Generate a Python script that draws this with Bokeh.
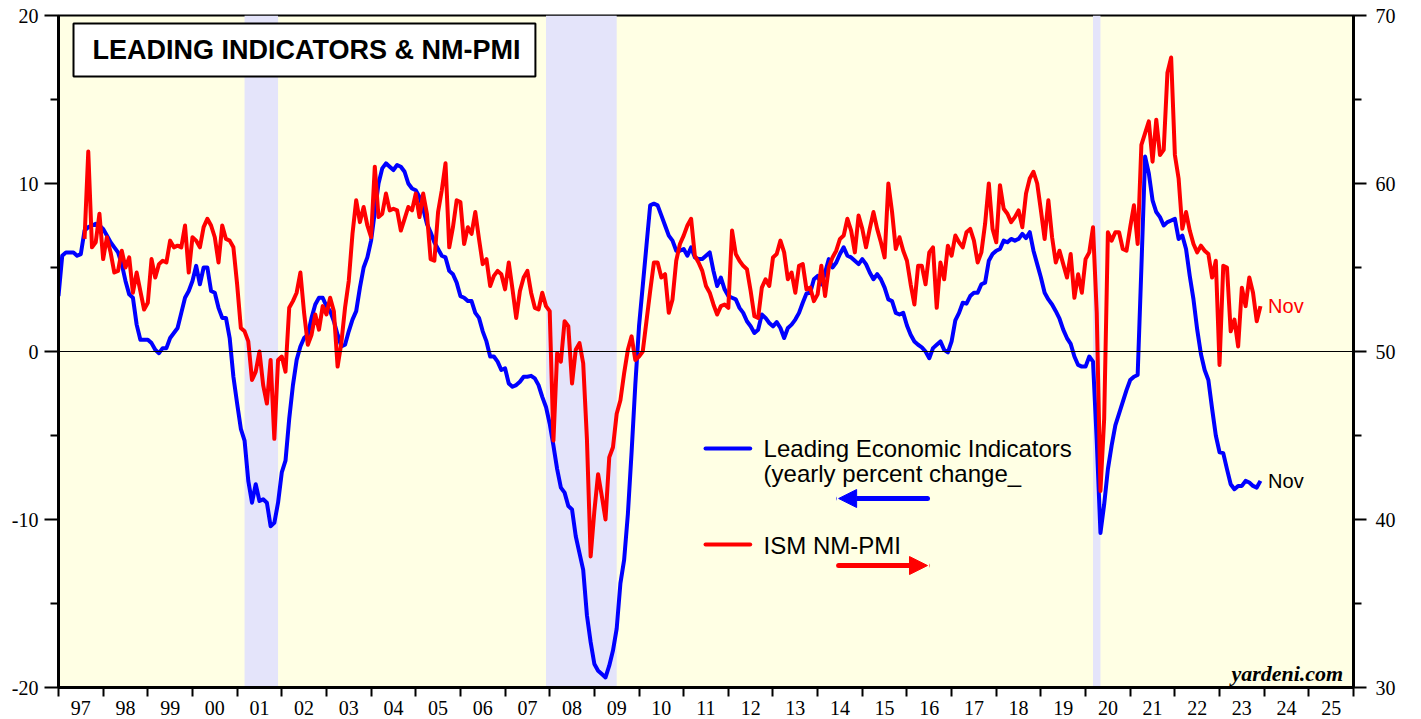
import pandas as pd
from bokeh.plotting import figure
from bokeh.models import (Range1d, LinearAxis, FixedTicker, BoxAnnotation, Span,
                          Label, Arrow, NormalHead)
from bokeh.embed import file_html
from bokeh.resources import INLINE

# ---------------- data ----------------
lei_start = "1996-12"          # monthly, month-end
lei_yoy = [
    3.3, 5.7, 5.9, 5.9, 5.9, 5.7, 5.8, 7.2, 7.4, 7.5, 7.6, 7.5,
    7.3, 6.9, 6.5, 6.2, 5.9, 5.2, 4.2, 3.4, 3.2, 1.6, 0.7, 0.7,
    0.7, 0.5, 0.1, -0.1, 0.2, 0.2, 0.8, 1.1, 1.4, 2.3, 3.2, 3.6,
    4.2, 5.1, 4.0, 5.0, 5.0, 3.6, 3.5, 2.6, 2.0, 2.0, 0.8, -1.5,
    -3.1, -4.6, -5.3, -7.7, -9.0, -7.9, -8.9, -8.8, -9.0, -10.4, -10.2, -9.0,
    -7.2, -6.5, -4.0, -2.0, -0.5, 0.3, 0.8, 1.0, 2.0, 2.8, 3.2, 3.2,
    2.7, 2.4, 1.8, 1.0, 0.3, 0.4, 1.2, 1.9, 2.4, 3.8, 5.0, 5.6,
    6.6, 8.3, 10.0, 10.9, 11.2, 11.0, 10.8, 11.1, 11.0, 10.7, 10.0, 9.7,
    9.6, 9.2, 8.5, 7.6, 7.1, 6.5, 6.1, 5.7, 5.6, 4.8, 4.6, 4.1,
    3.3, 3.2, 3.0, 3.0, 2.3, 2.0, 1.2, 0.6, -0.3, -0.3, -0.6, -1.1,
    -1.0, -1.9, -2.1, -2.0, -1.8, -1.5, -1.5, -1.45, -1.6, -2.0, -2.7, -3.3,
    -4.3, -5.6, -7.0, -8.1, -8.4, -9.2, -9.4, -11.0, -12.0, -13.0, -15.7, -17.3,
    -18.6, -19.0, -19.2, -19.4, -18.7, -17.8, -16.5, -13.8, -12.4, -9.7, -6.0, -2.0,
    1.5, 3.9, 6.3, 8.7, 8.8, 8.7, 8.1, 7.5, 6.9, 6.6, 6.0, 6.0,
    6.1, 5.7, 6.2, 5.6, 5.5, 5.5, 5.7, 5.9, 4.8, 3.9, 4.4, 3.7,
    3.3, 3.2, 3.1, 2.6, 2.3, 1.8, 1.5, 1.1, 1.3, 2.2, 2.0, 1.7,
    1.5, 1.75, 1.4, 0.8, 1.4, 1.6, 1.9, 2.3, 2.9, 3.45, 3.5, 4.3,
    4.5, 4.0, 4.7, 5.5, 5.0, 5.3, 5.8, 6.2, 5.7, 5.6, 5.4, 5.2,
    5.5, 5.2, 4.7, 4.3, 4.6, 4.3, 3.8, 3.1, 3.0, 2.3, 2.2, 2.3,
    1.55, 1.0, 0.6, 0.4, 0.25, 0.0, -0.4, 0.2, 0.4, 0.6, 0.1, -0.05,
    0.6, 1.85, 2.3, 2.9, 2.85, 3.3, 3.5, 3.5, 4.0, 4.1, 5.4, 5.8,
    6.0, 6.1, 6.6, 6.5, 6.7, 6.6, 6.7, 7.0, 6.75, 7.1, 6.0, 5.2,
    4.4, 3.5, 3.1, 2.8, 2.4, 1.95, 1.3, 0.8, 0.45, -0.3, -0.8, -0.9,
    -0.9, -0.3, -0.6, -5.3, -10.8, -9.1, -7.0, -5.6, -4.4, -3.7, -3.0, -2.3,
    -1.7, -1.5, -1.4, 5.0, 11.6, 10.6, 9.0, 8.3, 8.0, 7.5, 7.7, 7.8,
    7.9, 6.7, 6.9, 6.1, 4.5, 3.1, 1.3, -0.15, -1.1, -1.7, -3.4, -5.0,
    -6.0, -6.05, -7.0, -7.9, -8.2, -8.0, -8.0, -7.7, -7.8, -8.0, -8.1, -7.7,
]

pmi_start = "1997-07"          # monthly, month-end
nm_pmi = [
    56.7, 61.9, 56.2, 56.5, 58.2,
    55.5, 56.8, 55.9, 54.7, 54.8, 56.0, 55.0, 55.6, 53.5, 54.7, 53.6, 52.5,
    52.9, 55.5, 54.4, 55.2, 55.4, 55.3, 56.6, 56.2, 56.3, 56.2, 57.5, 54.7,
    56.8, 56.6, 56.2, 57.4, 57.9, 57.5, 56.8, 55.3, 57.5, 56.7, 56.6, 56.2,
    54.0, 51.4, 51.2, 50.6, 48.3, 48.8, 50.0, 48.0, 46.9, 49.5, 44.8, 49.5,
    49.7, 48.8, 52.6, 53.0, 53.5, 54.7, 52.3, 50.4, 51.0, 52.2, 51.3, 52.7,
    52.2, 53.2, 52.4, 49.1, 50.5, 52.6, 54.2, 57.0, 59.0, 57.7, 58.6, 57.5,
    56.8, 61.0, 58.0, 58.2, 59.4, 58.4, 58.5, 58.4, 57.2, 57.9, 58.6, 58.4,
    59.4, 58.0, 59.4, 58.2, 55.5, 55.4, 58.3, 59.6, 61.2, 56.2, 57.4, 59.0,
    58.9, 56.4, 57.4, 57.0, 58.3, 56.7, 55.2, 55.5, 53.9, 54.5, 54.8, 54.6,
    53.7, 55.3, 53.7, 52.0, 53.6, 54.4, 54.8, 53.5, 52.6, 52.5, 53.5, 52.7,
    52.4, 44.7, 49.9, 49.4, 51.8, 51.5, 48.1, 50.1, 50.5, 49.3, 44.8, 37.8,
    40.5, 42.7, 41.4, 40.0, 43.7, 44.3, 46.3, 47.1, 48.7, 50.1, 50.9, 49.5,
    49.7, 50.0, 51.8, 53.6, 55.3, 55.3, 54.4, 54.6, 52.3, 53.1, 55.4, 56.4,
    56.9, 57.5, 57.9, 55.7, 55.3, 54.8, 53.9, 53.5, 52.8, 52.2, 52.7, 52.8,
    52.6, 57.2, 55.8, 55.4, 55.1, 54.9, 53.6, 52.1, 52.0, 53.8, 54.3, 53.9,
    55.6, 55.8, 56.6, 55.9, 54.3, 54.7, 53.5, 55.1, 55.2, 53.7, 53.8, 53.0,
    53.4, 55.1, 53.3, 55.0, 55.6, 56.0, 56.7, 56.9, 57.9, 57.2, 55.9, 58.1,
    57.3, 56.2, 57.3, 58.3, 57.3, 56.5, 55.6, 60.0, 58.3, 56.1, 56.8, 56.0,
    55.4, 54.0, 52.8, 55.1, 55.1, 54.0, 55.9, 56.2, 52.6, 55.3, 54.3, 56.3,
    55.7, 56.9, 56.5, 56.2, 57.1, 57.3, 56.6, 55.3, 55.9, 57.6, 60.0, 57.3,
    56.5, 59.9, 58.5, 58.2, 57.7, 58.0, 58.4, 57.4, 59.4, 60.3, 60.7, 60.0,
    58.4, 56.7, 59.0, 56.8, 55.3, 56.0, 55.2, 54.4, 55.8, 53.2, 54.6, 53.5,
    55.5, 55.9, 57.4, 52.3, 41.7, 46.0, 57.1, 56.6, 57.1, 57.1, 56.1, 56.0,
    57.4, 58.7, 56.4, 62.3, 63.0, 63.7, 61.3, 63.8, 61.7, 62.0, 66.6, 67.5,
    61.7, 60.3, 57.3, 58.3, 57.2, 56.4, 55.9, 56.3, 56.0, 55.8, 54.4, 55.4,
    49.2, 55.1, 55.0, 51.2, 51.9, 50.3, 53.8, 52.7, 54.4, 53.5, 51.8, 52.7,
]

year_labels = ["97", "98", "99", "00", "01", "02", "03", "04", "05", "06",
               "07", "08", "09", "10", "11", "12", "13", "14", "15", "16",
               "17", "18", "19", "20", "21", "22", "23", "24", "25"]
first_year = 1997

recession_start = ["2001-03", "2007-12", "2020-03"]
recession_end = ["2001-11", "2009-06", "2020-04"]

left_ticks = [-20, -10, 0, 10, 20]
left_tick_labels = ["-20", "-10", "0", "10", "20"]
left_minor = [-15, -5, 5, 15]
right_ticks = [30, 40, 50, 60, 70]
right_tick_labels = ["30", "40", "50", "60", "70"]
right_minor = [35, 45, 55, 65]


def month_end_positions(start, n):
    per = pd.period_range(start, periods=n, freq="M")
    return [p.year + p.month / 12 for p in per]


def month_start(s):
    p = pd.Period(s, freq="M")
    return p.year + (p.month - 1) / 12


def month_end(s):
    p = pd.Period(s, freq="M")
    return p.year + p.month / 12


x_lei = month_end_positions(lei_start, len(lei_yoy))
x_pmi = month_end_positions(pmi_start, len(nm_pmi))

BLUE = "#0000FF"
RED = "#FF0000"
SERIF = "Liberation Serif"
SANS = "Liberation Sans"

n_years = len(year_labels)
p = figure(width=1416, height=719,
           x_range=Range1d(first_year, first_year + n_years),
           y_range=Range1d(left_ticks[0], left_ticks[-1]),
           output_backend="svg", toolbar_location=None,
           min_border_left=58, min_border_right=63,
           min_border_top=15, min_border_bottom=32)
p.extra_y_ranges = {"pmi": Range1d(right_ticks[0], right_ticks[-1])}
p.background_fill_color = "#FFFFE4"
p.border_fill_color = "white"
p.grid.visible = False
p.outline_line_color = "black"
p.outline_line_width = 2
p.outline_line_alpha = 1.0

# recessions
for s, e in zip(recession_start, recession_end):
    p.add_layout(BoxAnnotation(left=month_start(s), right=month_end(e),
                               fill_color="#E4E4FA", fill_alpha=1.0,
                               line_color=None, level="underlay"))

# x axis: labels centred in each year, ticks at year boundaries
mids = [first_year + i + 0.5 for i in range(n_years)]
bounds = [first_year + i for i in range(n_years + 1)]
xa = p.xaxis[0]
xa.ticker = FixedTicker(ticks=mids, minor_ticks=bounds)
xa.major_label_overrides = {m: lab for m, lab in zip(mids, year_labels)}
xa.major_tick_line_color = None
xa.major_tick_out = 9
xa.major_tick_in = 0
xa.minor_tick_out = 9
xa.minor_tick_in = 0
xa.minor_tick_line_color = "black"
xa.minor_tick_line_width = 2
xa.axis_line_width = 3
xa.axis_line_color = "black"
xa.major_label_standoff = 4
xa.major_label_text_font = SERIF
xa.major_label_text_font_size = "20px"
xa.major_label_text_color = "black"

# left axis
ya = p.yaxis[0]
ya.ticker = FixedTicker(ticks=left_ticks, minor_ticks=left_minor)
ya.major_label_overrides = {t: lab for t, lab in zip(left_ticks, left_tick_labels)}

# right axis
ra = LinearAxis(y_range_name="pmi",
                ticker=FixedTicker(ticks=right_ticks, minor_ticks=right_minor))
ra.major_label_overrides = {t: lab for t, lab in zip(right_ticks, right_tick_labels)}
p.add_layout(ra, "right")

for ax, out, stand in ((ya, 14, 6), (ra, 13, 9)):
    ax.major_tick_out = out
    ax.major_tick_in = 0
    ax.minor_tick_out = 8
    ax.minor_tick_in = 0
    ax.major_tick_line_width = 2
    ax.minor_tick_line_width = 2
    ax.major_tick_line_color = "black"
    ax.minor_tick_line_color = "black"
    ax.axis_line_width = 3
    ax.axis_line_color = "black"
    ax.major_label_standoff = stand
    ax.major_label_text_font = SERIF
    ax.major_label_text_font_size = "20px"
    ax.major_label_text_color = "black"

p.add_layout(Span(location=0, dimension="width", line_color="black", line_width=1))

# series
p.line(x_lei, lei_yoy, line_color=BLUE, line_width=4, line_join="round")
p.line(x_pmi, nm_pmi, line_color=RED, line_width=4, line_join="round",
       y_range_name="pmi")

# title box
p.add_layout(BoxAnnotation(left=1997.336, right=2007.68, bottom=16.37, top=19.52,
                           fill_color="white", fill_alpha=1.0,
                           line_color="black", line_alpha=1.0, line_width=2))
p.add_layout(Label(x=1997.76, y=17.95, text="LEADING INDICATORS & NM-PMI",
                   text_font=SANS, text_font_style="bold", text_font_size="27px",
                   text_color="black", text_baseline="middle"))

# legend
leg_x0, leg_x1, leg_tx = 2011.49, 2012.49, 2012.79
p.add_layout(Arrow(end=None, x_start=leg_x0, x_end=leg_x1, y_start=-5.77, y_end=-5.77,
                   line_color=BLUE, line_width=4, line_cap="round"))
p.add_layout(Label(x=leg_tx, y=-5.77, text="Leading Economic Indicators",
                   text_font=SANS, text_font_size="24px", text_color="black",
                   text_baseline="middle"))
p.add_layout(Label(x=leg_tx, y=-7.26, text="(yearly percent change_",
                   text_font=SANS, text_font_size="24px", text_color="black",
                   text_baseline="middle"))
p.add_layout(Arrow(end=NormalHead(size=18, fill_color=BLUE, line_color=BLUE),
                   x_start=2016.46, x_end=2014.47, y_start=-8.75, y_end=-8.75,
                   line_color=BLUE, line_width=5, line_cap="round"))
p.add_layout(Arrow(end=None, x_start=leg_x0, x_end=leg_x1, y_start=-11.49, y_end=-11.49,
                   line_color=RED, line_width=4, line_cap="round"))
p.add_layout(Label(x=leg_tx, y=-11.55, text="ISM NM-PMI",
                   text_font=SANS, text_font_size="24px", text_color="black",
                   text_baseline="middle"))
p.add_layout(Arrow(end=NormalHead(size=18, fill_color=RED, line_color=RED),
                   x_start=2014.47, x_end=2016.46, y_start=-12.74, y_end=-12.74,
                   line_color=RED, line_width=5, line_cap="round"))

# end labels
p.add_layout(Label(x=x_pmi[-1] + 0.17, y=nm_pmi[-1], y_range_name="pmi", text="Nov",
                   text_font=SANS, text_font_size="20px", text_color=RED,
                   text_baseline="middle"))
p.add_layout(Label(x=x_lei[-1] + 0.17, y=lei_yoy[-1], text="Nov",
                   text_font=SANS, text_font_size="20px", text_color="black",
                   text_baseline="middle"))

p.add_layout(Label(x=2025.77, y=-19.17, text="yardeni.com", text_align="right",
                   text_font=SERIF, text_font_style="bold italic", text_font_size="22px",
                   text_color="black", text_baseline="middle"))

open("out.html", "w").write(file_html(p, INLINE))
